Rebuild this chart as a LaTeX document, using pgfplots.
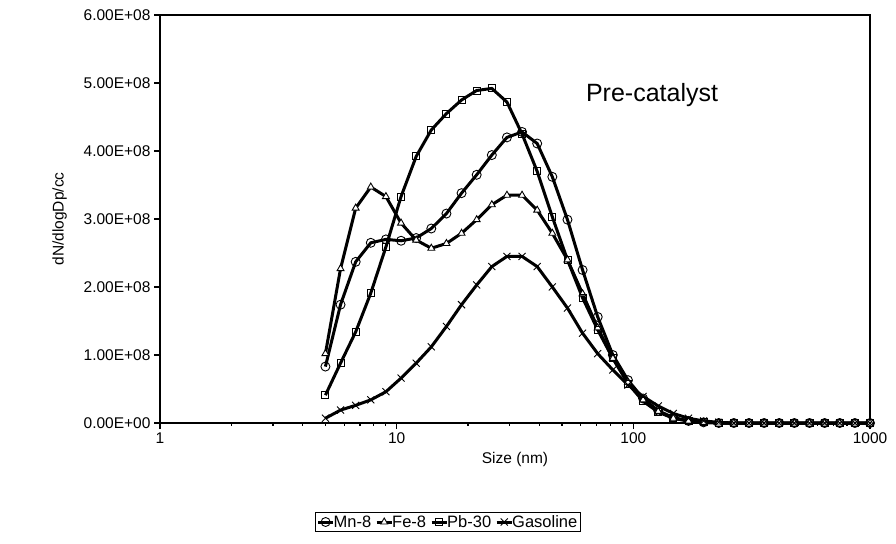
\documentclass[border=0pt]{standalone}
\usepackage{pgfplots}
\usepackage{pgfplotstable}
\pgfplotsset{compat=1.18}
\usepackage{fontspec}
\setmainfont{Liberation Sans}
\begin{document}
\begin{tikzpicture}
\path[use as bounding box] (-160pt,-120pt) rectangle (736pt,423pt);
\begin{axis}[at={(0,0)},anchor=south west,scale only axis,width=710pt,height=408pt,
 xmode=log,xmin=1,xmax=1000,ymin=0,ymax=6e8,scaled y ticks=false,clip=false,
 xtick={1,10,100,1000},xticklabels={1,10,100,1000},
 ytick={0,1e8,2e8,3e8,4e8,5e8,6e8},
 yticklabels={0.00E+00,1.00E+08,2.00E+08,3.00E+08,4.00E+08,5.00E+08,6.00E+08},
 minor xtick={},axis line style={line width=1.4pt},
 tick style={line width=1.2pt,black},tick align=outside,major tick length=6pt,
 xtick pos=bottom,ytick pos=left,
 tick label style={font=\fontsize{15.5}{18}\selectfont},
 xlabel={Size (nm)},ylabel={dN/dlogDp/cc},
 label style={font=\fontsize{15.5}{18}\selectfont},
 xlabel style={yshift=-2pt},ylabel style={yshift=10pt},
 legend columns=-1,
 legend style={at={(0.4056,-99pt)},anchor=center,draw=black,line width=1pt,font=\fontsize{16.5}{18}\selectfont,inner sep=1pt,/tikz/every even column/.append style={column sep=2pt},/tikz/every odd column/.append style={column sep=-3pt}},
 legend image code/.code={\draw[#1] (0pt,0pt)--(15pt,0pt); \draw[#1,only marks] plot coordinates {(7.5pt,0pt)};},
 every axis plot/.append style={line width=3pt,black,mark options={line width=0.9pt,fill=white,solid}},
 ]
\pgfplotstableread{
k mn fe pb ga
0 0.83 1.02 0.41 0.07
1 1.74 2.27 0.88 0.19
2 2.37 3.16 1.34 0.26
3 2.65 3.47 1.91 0.34
4 2.70 3.33 2.59 0.46
5 2.68 2.94 3.33 0.66
6 2.72 2.69 3.92 0.88
7 2.86 2.57 4.31 1.12
8 3.08 2.64 4.55 1.42
9 3.38 2.79 4.75 1.74
10 3.65 2.99 4.89 2.03
11 3.94 3.21 4.92 2.30
12 4.20 3.35 4.72 2.45
13 4.28 3.35 4.25 2.45
14 4.11 3.13 3.70 2.30
15 3.62 2.79 3.03 2.00
16 2.99 2.40 2.40 1.69
17 2.25 1.90 1.84 1.32
18 1.56 1.40 1.37 1.02
19 1.00 0.95 0.95 0.78
20 0.63 0.60 0.58 0.56
21 0.36 0.34 0.32 0.39
22 0.18 0.17 0.16 0.25
23 0.08 0.07 0.07 0.14
24 0.03 0.03 0.03 0.07
25 0.01 0.01 0.01 0.03
26 0 0 0 0.01
27 0 0 0 0
28 0 0 0 0
29 0 0 0 0
30 0 0 0 0
31 0 0 0 0
32 0 0 0 0
33 0 0 0 0
34 0 0 0 0
35 0 0 0 0
36 0 0 0 0
}\data
\addplot[mark=o,mark size=4.5pt] table[x expr={5*10^(\thisrow{k}*0.06392)},y expr={\thisrow{mn}*1e8}] {\data};
\addplot[mark=triangle*,mark size=4pt] table[x expr={5*10^(\thisrow{k}*0.06392)},y expr={\thisrow{fe}*1e8}] {\data};
\addplot[mark=square,mark size=3.5pt] table[x expr={5*10^(\thisrow{k}*0.06392)},y expr={\thisrow{pb}*1e8}] {\data};
\addplot[mark=x,mark size=5pt] table[x expr={5*10^(\thisrow{k}*0.06392)},y expr={\thisrow{ga}*1e8}] {\data};
\legend{Mn-8,Fe-8,Pb-30,Gasoline}
\node[anchor=west,font=\fontsize{25}{30}\selectfont] at (axis cs:61,4.82e8) {Pre-catalyst};
\end{axis}
\end{tikzpicture}
\end{document}
